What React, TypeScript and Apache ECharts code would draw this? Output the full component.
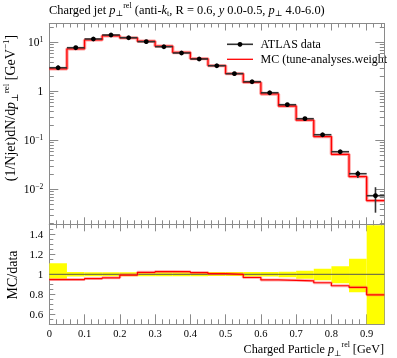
import React, { useEffect, useRef } from 'react';
import * as echarts from 'echarts';

// ---- data ----
const binEdges = [0, 0.05, 0.1, 0.15, 0.2, 0.25, 0.3, 0.35, 0.4, 0.45, 0.5, 0.55, 0.6, 0.65, 0.7, 0.75, 0.8, 0.85, 0.9, 0.95];
const dataValues = [3.03, 7.76, 11.7, 14.1, 12.4, 10.3, 8.13, 6.05, 4.56, 3.33, 2.29, 1.57, 0.936, 0.533, 0.276, 0.13, 0.0585, 0.0208, 0.0074];
const dataRelErrUp = [0.11, 0.022, 0.02, 0.02, 0.02, 0.02, 0.02, 0.02, 0.02, 0.022, 0.022, 0.022, 0.022, 0.025, 0.035, 0.055, 0.08, 0.155, 0.49];
const dataRelErrDown = [0.045, 0.022, 0.02, 0.02, 0.02, 0.02, 0.02, 0.02, 0.02, 0.018, 0.018, 0.022, 0.022, 0.03, 0.045, 0.06, 0.09, 0.18, 0.55];
const mcValues = [2.87, 7.35, 11.2, 13.6, 12.3, 10.5, 8.35, 6.21, 4.64, 3.35, 2.29, 1.52, 0.883, 0.501, 0.258, 0.119, 0.0518, 0.0181, 0.00588];

const xMajorTicks = [0, 0.1, 0.2, 0.3, 0.4, 0.5, 0.6, 0.7, 0.8, 0.9];
const xMinorTicks = [0.02, 0.04, 0.06, 0.08, 0.12, 0.14, 0.16, 0.18, 0.22, 0.24, 0.26, 0.28, 0.32, 0.34, 0.36, 0.38, 0.42, 0.44, 0.46, 0.48, 0.52, 0.54, 0.56, 0.58, 0.62, 0.64, 0.66, 0.68, 0.72, 0.74, 0.76, 0.78, 0.82, 0.84, 0.86, 0.88, 0.92, 0.94];
const yMainMajorTicks = [0.01, 0.1, 1, 10];
const yMainMinorTicks = [0.002, 0.003, 0.004, 0.005, 0.006, 0.007, 0.008, 0.009, 0.02, 0.03, 0.04, 0.05, 0.06, 0.07, 0.08, 0.09, 0.2, 0.3, 0.4, 0.5, 0.6, 0.7, 0.8, 0.9, 2, 3, 4, 5, 6, 7, 8, 9, 20];
const yRatioMajorTicks = [0.6, 0.8, 1, 1.2, 1.4];
const yRatioMinorTicks = [0.55, 0.65, 0.7, 0.75, 0.85, 0.9, 0.95, 1.05, 1.1, 1.15, 1.25, 1.3, 1.35, 1.45];

const X_MIN = 0, X_MAX = 0.95;
const Y_MAIN_MIN = 0.00193, Y_MAIN_MAX = 24.2;
const Y_RATIO_MIN = 0.5, Y_RATIO_MAX = 1.5;

const FONT = '"Liberation Serif", "DejaVu Serif", serif';
const FRAME = '#8a8a8a';

const lg = (v: number) => Math.log10(v);

function xAxisDef(grid: number, pos: 'top' | 'bottom', ticks: number[], len: number, showLine: boolean, showLabel: boolean) {
  return {
    type: 'value', gridIndex: grid, position: pos, min: X_MIN, max: X_MAX,
    axisLine: { show: showLine, onZero: false, lineStyle: { color: FRAME, width: 1 } },
    axisTick: { show: true, inside: true, length: len, customValues: ticks, lineStyle: { color: FRAME, width: 1 } },
    axisLabel: showLabel
      ? { show: true, customValues: xMajorTicks, margin: 4, color: '#000', fontFamily: FONT, fontSize: 10.5, lineHeight: 11,
          formatter: (v: number) => (v === 0 ? '0' : String(Math.round(v * 10) / 10)) }
      : { show: false },
    splitLine: { show: false },
  };
}

function yAxisDef(grid: number, pos: 'left' | 'right', min: number, max: number, ticks: number[], len: number, showLine: boolean, label: any) {
  return {
    type: 'value', gridIndex: grid, position: pos, min, max,
    axisLine: { show: showLine, onZero: false, lineStyle: { color: FRAME, width: 1 } },
    axisTick: { show: true, inside: true, length: len, customValues: ticks, lineStyle: { color: FRAME, width: 1 } },
    axisLabel: label || { show: false },
    splitLine: { show: false },
  };
}

function stepPoints(vals: number[], tf: (v: number) => number) {
  const pts: number[][] = [];
  vals.forEach((v, i) => {
    pts.push([binEdges[i], tf(v)]);
    pts.push([binEdges[i + 1], tf(v)]);
  });
  return pts;
}

function makeRich(size: number) {
  const small = Math.round(size * 0.65 * 10) / 10;
  return {
    n: { fontFamily: FONT, fontSize: size, color: '#000', lineHeight: size + 4, verticalAlign: 'middle' },
    i: { fontFamily: FONT, fontSize: size, fontStyle: 'italic', color: '#000', lineHeight: size + 4, verticalAlign: 'middle' },
    sup: { fontFamily: FONT, fontSize: small, color: '#000', lineHeight: small, verticalAlign: 'top' },
    sub: { fontFamily: FONT, fontSize: small, color: '#000', lineHeight: small, verticalAlign: 'bottom' },
  };
}

export default function App() {
  const ref = useRef<HTMLDivElement>(null);
  useEffect(() => {
    if (!ref.current) return;
    const chart = echarts.init(ref.current, null, { renderer: 'svg' });

    const mainLabel = {
      show: true, customValues: yMainMajorTicks.map(lg), margin: 6, color: '#000', fontFamily: FONT, fontSize: 11,
      formatter: (v: number) => {
        const e = Math.round(v);
        if (e === 0) return '{n|1}';
        return '{n|10}{s|' + (e < 0 ? '\u2212' + -e : String(e)) + '}';
      },
      rich: {
        n: { fontFamily: FONT, fontSize: 11.5, color: '#000', lineHeight: 14, verticalAlign: 'middle' },
        s: { fontFamily: FONT, fontSize: 7.5, color: '#000', lineHeight: 7, verticalAlign: 'top' },
      },
    };
    const ratioLabel = {
      show: true, customValues: yRatioMajorTicks, margin: 6, color: '#000', fontFamily: FONT, fontSize: 11,
      formatter: (v: number) => (Math.abs(v - 1) < 1e-9 ? '1' : v.toFixed(1)),
    };

    const dataItems = dataValues.map((v, i) => [
      binEdges[i], binEdges[i + 1], lg(v), lg(v * (1 + dataRelErrUp[i])), lg(v * (1 - dataRelErrDown[i])),
    ]);
    const bandItems = dataValues.map((v, i) => [
      binEdges[i], binEdges[i + 1], Math.min(Y_RATIO_MAX, 1 + dataRelErrUp[i]), Math.max(Y_RATIO_MIN, 1 - dataRelErrDown[i]),
    ]);
    const ratioVals = mcValues.map((m, i) => m / dataValues[i]);

    const option: any = {
      animation: false,
      grid: [
        { left: 49.3, top: 23.5, width: 335, height: 200.8, containLabel: false, outerBoundsMode: 'none' },
        { left: 49.3, top: 224.3, width: 335, height: 100, containLabel: false, outerBoundsMode: 'none' },
      ],
      xAxis: [
        xAxisDef(0, 'bottom', xMajorTicks, 7, true, false),
        xAxisDef(0, 'bottom', xMinorTicks, 4, false, false),
        xAxisDef(0, 'top', xMajorTicks, 7, true, false),
        xAxisDef(0, 'top', xMinorTicks, 4, false, false),
        xAxisDef(1, 'bottom', xMajorTicks, 10, true, true),
        xAxisDef(1, 'bottom', xMinorTicks, 5, false, false),
        xAxisDef(1, 'top', xMajorTicks, 7, true, false),
        xAxisDef(1, 'top', xMinorTicks, 4, false, false),
      ],
      yAxis: [
        yAxisDef(0, 'left', lg(Y_MAIN_MIN), lg(Y_MAIN_MAX), yMainMajorTicks.map(lg), 9, true, mainLabel),
        yAxisDef(0, 'left', lg(Y_MAIN_MIN), lg(Y_MAIN_MAX), yMainMinorTicks.map(lg), 4.5, false, null),
        yAxisDef(0, 'right', lg(Y_MAIN_MIN), lg(Y_MAIN_MAX), yMainMajorTicks.map(lg), 9, true, null),
        yAxisDef(0, 'right', lg(Y_MAIN_MIN), lg(Y_MAIN_MAX), yMainMinorTicks.map(lg), 4.5, false, null),
        yAxisDef(1, 'left', Y_RATIO_MIN, Y_RATIO_MAX, yRatioMajorTicks, 6, true, ratioLabel),
        yAxisDef(1, 'left', Y_RATIO_MIN, Y_RATIO_MAX, yRatioMinorTicks, 4, false, null),
        yAxisDef(1, 'right', Y_RATIO_MIN, Y_RATIO_MAX, yRatioMajorTicks, 6, true, null),
        yAxisDef(1, 'right', Y_RATIO_MIN, Y_RATIO_MAX, yRatioMinorTicks, 4, false, null),
      ],
      series: [
        {
          type: 'line', xAxisIndex: 0, yAxisIndex: 0, data: stepPoints(mcValues, lg), showSymbol: false,
          lineStyle: { color: 'rgba(255,70,70,0.5)', width: 3.4 }, silent: true, z: 2,
        },
        {
          type: 'line', xAxisIndex: 0, yAxisIndex: 0, data: stepPoints(mcValues, lg), showSymbol: false,
          lineStyle: { color: '#ff0000', width: 1.3 }, silent: true, z: 3,
        },
        {
          type: 'custom', xAxisIndex: 0, yAxisIndex: 0, data: dataItems, z: 4,
          encode: { x: [0, 1], y: [2, 3, 4] },
          renderItem: (params: any, api: any) => {
            const xlo = api.value(0), xhi = api.value(1), y = api.value(2), yu = api.value(3), yd = api.value(4);
            const xc = (xlo + xhi) / 2;
            const p1 = api.coord([xlo, y]), p2 = api.coord([xhi, y]);
            const pu = api.coord([xc, yu]), pd = api.coord([xc, yd]);
            return {
              type: 'group',
              children: [
                { type: 'line', shape: { x1: p1[0], y1: p1[1], x2: p2[0], y2: p2[1] }, style: { stroke: '#333', lineWidth: 1.6 } },
                { type: 'line', shape: { x1: pu[0], y1: pu[1], x2: pd[0], y2: pd[1] }, style: { stroke: '#333', lineWidth: 1.6 } },
                { type: 'circle', shape: { cx: (p1[0] + p2[0]) / 2, cy: p1[1], r: 2.4 }, style: { fill: '#000' } },
              ],
            };
          },
        },
        {
          type: 'custom', xAxisIndex: 4, yAxisIndex: 4, data: bandItems, z: 1, clip: true,
          encode: { x: [0, 1], y: [2, 3] },
          renderItem: (params: any, api: any) => {
            const a = api.coord([api.value(0), api.value(2)]);
            const b = api.coord([api.value(1), api.value(3)]);
            return { type: 'rect', shape: { x: a[0], y: a[1], width: b[0] - a[0], height: b[1] - a[1] }, style: { fill: '#ffff00' } };
          },
        },
        {
          type: 'line', xAxisIndex: 4, yAxisIndex: 4, data: [[X_MIN, 1], [X_MAX, 1]], showSymbol: false,
          lineStyle: { color: '#555', width: 1 }, silent: true, z: 2,
        },
        {
          type: 'line', xAxisIndex: 4, yAxisIndex: 4, data: stepPoints(ratioVals, (v) => v), showSymbol: false,
          lineStyle: { color: 'rgba(255,90,90,0.45)', width: 3 }, silent: true, z: 3,
        },
        {
          type: 'line', xAxisIndex: 4, yAxisIndex: 4, data: stepPoints(ratioVals, (v) => v), showSymbol: false,
          lineStyle: { color: '#ff0000', width: 1.2 }, silent: true, z: 4,
        },
      ],
      graphic: [
        {
          type: 'text', x: 49, y: 9.5,
          style: {
            text: '{n|Charged jet }{i|p}{sub|\u22a5}{sup|rel}{n| (anti-}{i|k}{sub|t}{n|, R = 0.6, }{i|y}{n| 0.0-0.5, }{i|p}{sub|\u22a5}{n| 4.0-6.0)}',
            rich: makeRich(12.4), align: 'left', verticalAlign: 'middle',
          },
        },
        {
          type: 'text', x: 10, y: 108, rotation: Math.PI / 2,
          style: {
            text: '{n|(1/Njet)dN/d}{i|p}{sub|\u22a5}{sup|rel}{n| [GeV}{sup|\u22121}{n|]}',
            rich: makeRich(14), align: 'center', verticalAlign: 'middle',
          },
        },
        {
          type: 'text', x: 12, y: 275, rotation: Math.PI / 2,
          style: { text: '{n|MC/data}', rich: makeRich(14), align: 'center', verticalAlign: 'middle' },
        },
        {
          type: 'text', x: 384, y: 349,
          style: {
            text: '{n|Charged Particle }{i|p}{sub|\u22a5}{sup|rel}{n| [GeV]}',
            rich: makeRich(12.2), align: 'right', verticalAlign: 'middle',
          },
        },
        { type: 'line', shape: { x1: 227, y1: 44.3, x2: 253, y2: 44.3 }, style: { stroke: '#333', lineWidth: 1.6 } },
        { type: 'circle', shape: { cx: 240, cy: 44.3, r: 2.4 }, style: { fill: '#000' } },
        { type: 'text', x: 260.5, y: 44.3, style: { text: 'ATLAS data', font: '12px ' + FONT, fill: '#000', align: 'left', verticalAlign: 'middle' } },
        { type: 'line', shape: { x1: 227, y1: 59.3, x2: 253, y2: 59.3 }, style: { stroke: '#ff0000', lineWidth: 1.3 } },
        { type: 'text', x: 260.5, y: 59.3, style: { text: 'MC (tune-analyses.weight', font: '12px ' + FONT, fill: '#000', align: 'left', verticalAlign: 'middle' } },
      ],
    };
    chart.setOption(option);
    return () => chart.dispose();
  }, []);
  return <div ref={ref} style={{ position: 'fixed', left: 0, top: 0, width: 397, height: 358 }} />;
}
